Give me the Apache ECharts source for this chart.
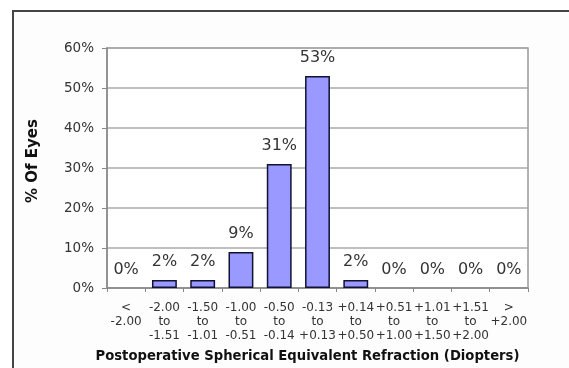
<!DOCTYPE html>
<html>
<head>
<meta charset="utf-8">
<script src="https://cdn.jsdelivr.net/npm/echarts@6/dist/echarts.min.js"></script>
<style>
  html, body { margin: 0; padding: 0; background: #ffffff; }
  #chart { width: 569px; height: 368px; }
</style>
</head>
<body>
<div id="chart"></div>
<script>
// Refraction ranges (diopters), one bar per range
const categories = [
  '<\n-2.00',
  '-2.00\nto\n-1.51',
  '-1.50\nto\n-1.01',
  '-1.00\nto\n-0.51',
  '-0.50\nto\n-0.14',
  '-0.13\nto\n+0.13',
  '+0.14\nto\n+0.50',
  '+0.51\nto\n+1.00',
  '+1.01\nto\n+1.50',
  '+1.51\nto\n+2.00',
  '>\n+2.00'
];
// Share of eyes in each range (%)
const percentEyes = [0, 2, 2, 9, 31, 53, 2, 0, 0, 0, 0];
// Value axis ticks (%)
const yTicks = [0, 10, 20, 30, 40, 50, 60];

const FONT = 'DejaVu Sans';
const chart = echarts.init(document.getElementById('chart'), null, { renderer: 'canvas' });

// Empty ranges keep their label but draw no outline
const barData = percentEyes.map(v => ({
  value: v,
  itemStyle: v === 0 ? { borderWidth: 0, opacity: 0 } : undefined
}));

chart.setOption({
  animation: false,
  backgroundColor: '#ffffff',
  graphic: [{
    type: 'rect',
    shape: { x: 13, y: 11, width: 620, height: 420 },
    style: { fill: '#fdfdfd', stroke: '#444444', lineWidth: 2 },
    z: -10
  }],
  grid: {
    left: 107, top: 48, right: 41, bottom: 79,
    show: true, borderColor: '#999999', borderWidth: 1.5, backgroundColor: '#ffffff'
  },
  xAxis: {
    type: 'category',
    data: categories,
    name: 'Postoperative Spherical Equivalent Refraction (Diopters)',
    nameLocation: 'middle',
    nameGap: 62,
    nameTextStyle: { fontFamily: FONT, fontWeight: 'bold', fontSize: 13.2, color: '#111', padding: [0, 20, 0, 0] },
    axisLine: { lineStyle: { color: '#888888', width: 1.5 } },
    axisTick: { show: true, length: 4, lineStyle: { color: '#888888' } },
    axisLabel: {
      interval: 0, fontFamily: FONT, fontSize: 12, color: '#333', lineHeight: 14,
      margin: 13, verticalAlign: 'top'
    }
  },
  yAxis: {
    type: 'value',
    min: yTicks[0],
    max: yTicks[yTicks.length - 1],
    interval: yTicks[1] - yTicks[0],
    name: '% Of Eyes',
    nameLocation: 'middle',
    nameGap: 66,
    nameTextStyle: { fontFamily: FONT, fontWeight: 'bold', fontSize: 15, color: '#111', padding: [0, 0, 0, 14] },
    axisLine: { show: true, lineStyle: { color: '#888888', width: 1.5 } },
    axisTick: { show: true, length: 5, lineStyle: { color: '#888888' } },
    axisLabel: { formatter: '{value}%', fontFamily: FONT, fontSize: 13.5, color: '#333', margin: 13 },
    splitLine: { lineStyle: { color: '#aaaaaa', width: 1.5 } }
  },
  series: [{
    type: 'bar',
    data: barData,
    barWidth: '65%',
    itemStyle: { color: '#9999ff', borderColor: '#111133', borderWidth: 1.5 },
    label: {
      show: true, position: 'top', distance: 10, opacity: 1,
      formatter: '{c}%', fontFamily: FONT, fontSize: 16, color: '#333'
    }
  }]
});
</script>
</body>
</html>
